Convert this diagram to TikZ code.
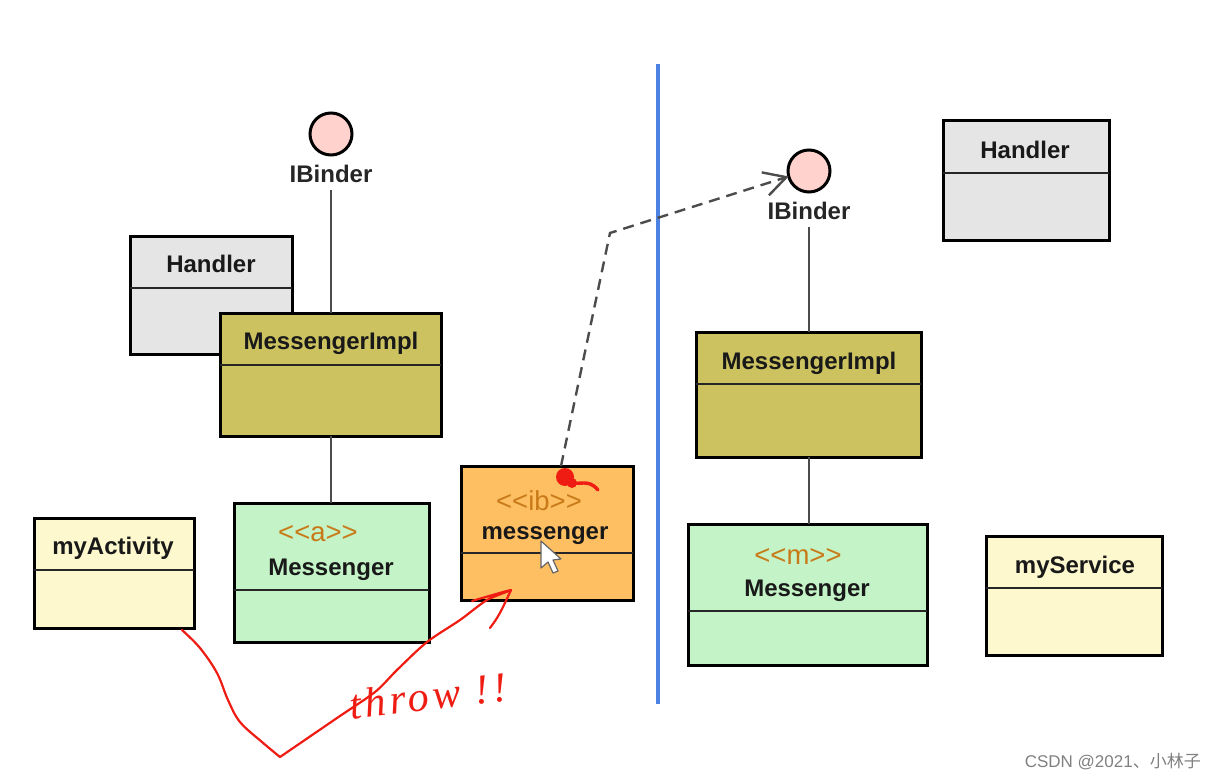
\documentclass[tikz,border=0pt]{standalone}
\usepackage{fontspec}
\setmainfont{Liberation Sans}
\newfontfamily\cjk{Noto Sans CJK SC}
\newfontfamily\handfont[LetterSpace=9]{Liberation Serif}
\usetikzlibrary{arrows.meta}
\definecolor{handlergray}{HTML}{E5E5E5}
\definecolor{implolive}{HTML}{CCC360}
\definecolor{msggreen}{HTML}{C3F3C6}
\definecolor{appyellow}{HTML}{FDF8CE}
\definecolor{iborange}{HTML}{FDBF62}
\definecolor{ballpink}{HTML}{FFD2CE}
\definecolor{sepblue}{HTML}{4C82E2}
\definecolor{inkred}{HTML}{EE1C12}
\definecolor{stereo}{HTML}{C97A18}
\tikzset{
  classbox/.style={draw=black,line width=3pt,outer sep=0pt,inner sep=0pt},
  divider/.style={draw=black!85,line width=1.8pt},
  classtitle/.style={font=\fontsize{24}{28}\selectfont\bfseries,inner sep=0pt,text=black!90,text height=17pt,text depth=0pt},
  stereotype/.style={font=\fontsize{27.5}{30}\selectfont,inner sep=0pt,text=stereo},
  ball/.style={circle,draw=black,line width=3pt,fill=ballpink,minimum size=42pt,inner sep=0pt,outer sep=0pt},
  binderlabel/.style={font=\fontsize{24}{28}\selectfont\bfseries,inner sep=0pt,outer ysep=7pt,text=black!85},
  link/.style={draw=black!70,line width=2pt},
  ink/.style={draw=inkred,line width=2.2pt,line cap=round,line join=round}
}
\begin{document}
\begin{tikzpicture}[x=1pt,y=-1pt]
\useasboundingbox (0,0) rectangle (1216,781);
% left side
\node [ball] (ballL) at (331,134) {};
\node [binderlabel] (binderL) at (331,174) {IBinder};
\node [classbox,fill=handlergray,minimum width=162pt,minimum height=118pt] (handlerL) at (211,295) {};
\draw [divider] (handlerL.west |- 0,288) -- (handlerL.east |- 0,288);
\node [classtitle] (handlerLt) at (211,264) {Handler};
\node [classbox,fill=implolive,minimum width=221pt,minimum height=123pt] (implL) at (330.5,374.5) {};
\draw [divider] (implL.west |- 0,365) -- (implL.east |- 0,365);
\node [classtitle] (implLt) at (331,341) {MessengerImpl};
\node [classbox,fill=msggreen,minimum width=195pt,minimum height=139pt] (msgA) at (331.5,572.5) {};
\draw [divider] (msgA.west |- 0,590) -- (msgA.east |- 0,590);
\node [stereotype] (msgAs) at (318,534) {{<}{<}a{>}{>}};
\node [classtitle] (msgAt) at (331,567) {Messenger};
\node [classbox,fill=appyellow,minimum width=160pt,minimum height=110pt] (activity) at (114,573) {};
\draw [divider] (activity.west |- 0,570) -- (activity.east |- 0,570);
\node [classtitle] (activityt) at (113,546) {myActivity};
\draw [link] (binderL.south) -- (binderL.south |- implL.north);
\draw [link] (binderL.south |- implL.south) -- (binderL.south |- msgA.north);
% parcel in the middle
\node [classbox,fill=iborange,minimum width=172pt,minimum height=134pt] (ibox) at (547,533) {};
\draw [divider] (ibox.west |- 0,553) -- (ibox.east |- 0,553);
\node [stereotype] (iboxs) at (539,501) {{<}{<}ib{>}{>}};
\node [classtitle] (iboxt) at (545,531) {messenger};
% separator
\coordinate (septop) at (658,64);
\coordinate (sepbot) at (658,704);
\draw [sepblue,line width=3.4pt] (septop) -- (sepbot);
% right side
\node [ball] (ballR) at (809,171) {};
\node [binderlabel] (binderR) at (809,211) {IBinder};
\node [classbox,fill=handlergray,minimum width=166pt,minimum height=119pt] (handlerR) at (1026,180.5) {};
\draw [divider] (handlerR.west |- 0,173) -- (handlerR.east |- 0,173);
\node [classtitle] (handlerRt) at (1025,150) {Handler};
\node [classbox,fill=implolive,minimum width=225pt,minimum height=125pt] (implR) at (808.5,394.5) {};
\draw [divider] (implR.west |- 0,384) -- (implR.east |- 0,384);
\node [classtitle] (implRt) at (809,361) {MessengerImpl};
\node [classbox,fill=msggreen,minimum width=239pt,minimum height=141pt] (msgM) at (807.5,594.5) {};
\draw [divider] (msgM.west |- 0,611) -- (msgM.east |- 0,611);
\node [stereotype] (msgMs) at (798,556) {{<}{<}m{>}{>}};
\node [classtitle] (msgMt) at (807,588) {Messenger};
\node [classbox,fill=appyellow,minimum width=176pt,minimum height=119pt] (service) at (1074,595.5) {};
\draw [divider] (service.west |- 0,588) -- (service.east |- 0,588);
\node [classtitle] (servicet) at (1075,565) {myService};
\draw [link] (binderR.south) -- (binderR.south |- implR.north);
\draw [link] (binderR.south |- implR.south) -- (binderR.south |- msgM.north);
% reference from the parcel to the far binder
\coordinate (refstart) at (561,466);
\coordinate (refbend) at (610,233);
\draw [link,line width=2.4pt,dash pattern=on 11pt off 7pt,-{Straight Barb[length=22pt,width=24pt,line width=2.4pt]}] (refstart) -- (refbend) -- (ballR.195);
% red ink
\coordinate (inkstart) at (182,630);
\coordinate (inkdip) at (280,757);
\coordinate (inktip) at (511,590);
\draw [ink] plot [smooth,tension=0.6] coordinates {(inkstart) (200,648) (217,673) (228,700) (240,722) (262,742) (inkdip)};
\draw [ink] plot [smooth,tension=0.5] coordinates {(inkdip) (337,718) (375,692) (397,670) (427,642) (460,620) (487,600) (inktip) (472,601)};
\draw [ink] plot [smooth,tension=0.5] coordinates {(inktip) (503,607) (497,618) (490,628)};
\node [font=\handfont\itshape\fontsize{42}{46}\selectfont,text=inkred,rotate=7,inner sep=0pt] (inknote) at (428,696) {throw !!};
\fill [inkred] (565,477) circle (9pt);
\fill [inkred] (572,483) circle (5pt);
\coordinate (blobtail) at (598,490);
\draw [ink,line width=3.4pt] (570,482) .. controls (580,486) and (588,478) .. (blobtail);
% pointer
\draw [fill=white,draw=black!60,line width=1.2pt,line join=round] (541,541) -- (541,568) -- (548,562) -- (553,573) -- (558,571) -- (553,560) -- (561,559) -- cycle;
% watermark
\node [anchor=east,inner sep=0pt,text=black!50,font=\fontsize{17}{20}\selectfont] (mark) at (1201,762) {CSDN @2021{\cjk 、小林子}};
\end{tikzpicture}
\end{document}
